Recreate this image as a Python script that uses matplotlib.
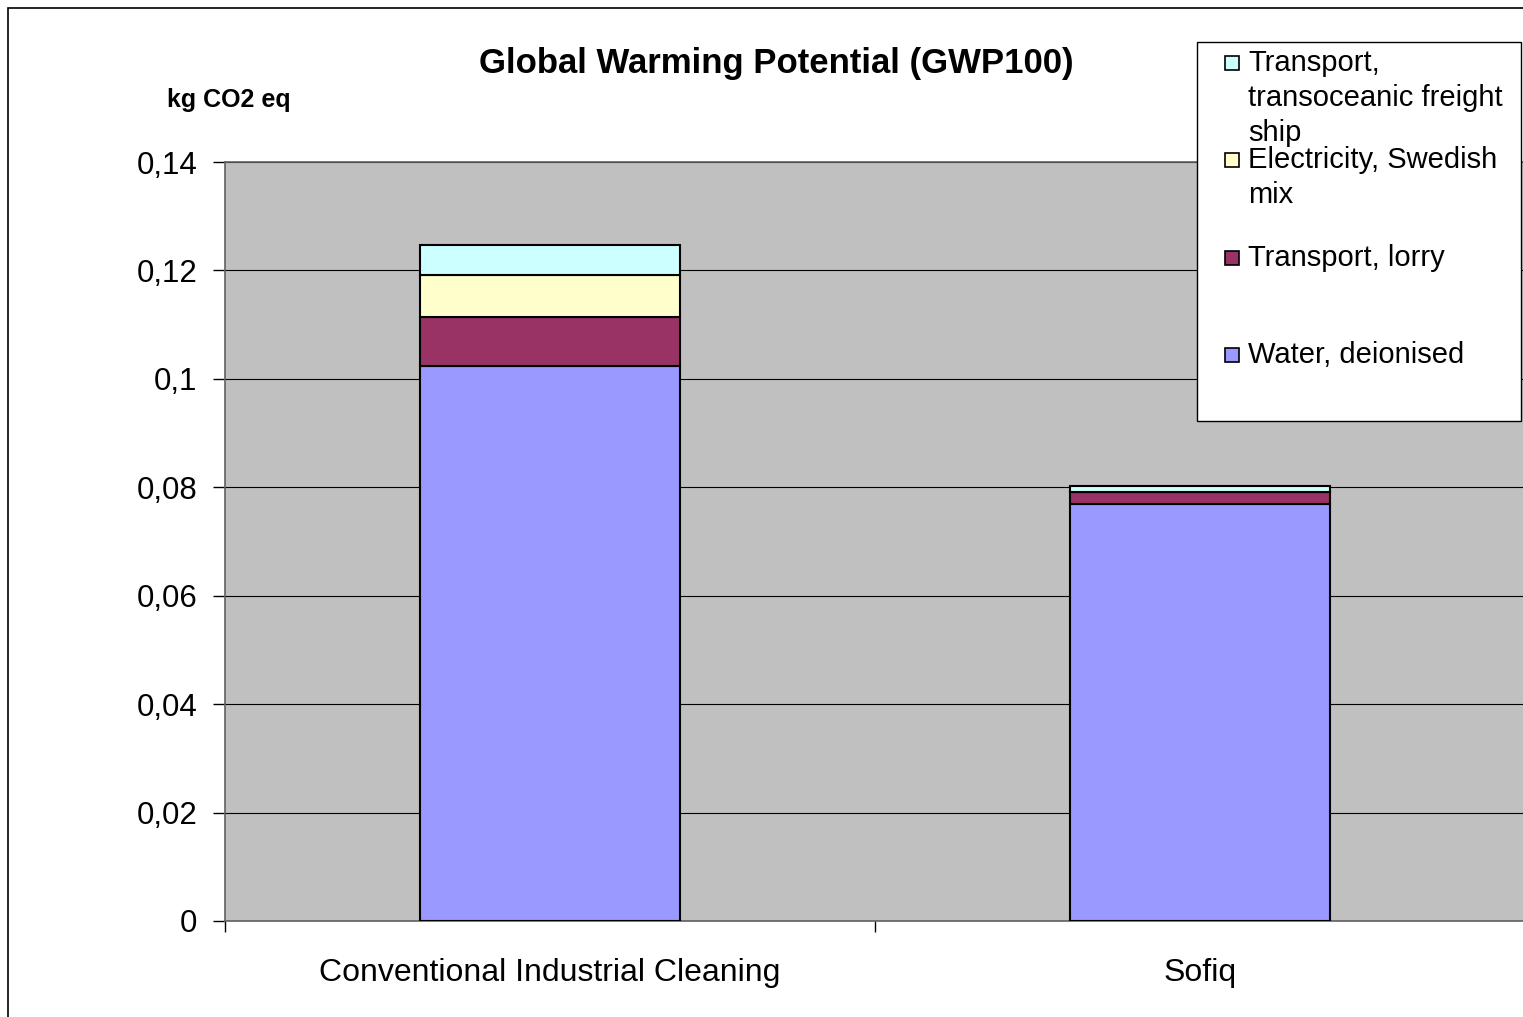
import matplotlib
matplotlib.use("Agg")
import matplotlib.pyplot as plt
from matplotlib.patches import Rectangle
from matplotlib.ticker import FixedLocator

plt.rcParams['font.family'] = ['Liberation Sans', 'DejaVu Sans']

categories = ["Conventional Industrial Cleaning", "Sofiq"]
series_names = ["Water, deionised", "Transport, lorry",
                "Electricity, Swedish mix", "Transport, transoceanic freight ship"]
legend_labels = ["Water, deionised", "Transport, lorry",
                 "Electricity, Swedish\nmix", "Transport,\ntransoceanic freight\nship"]
water = [0.1024, 0.0770]
lorry = [0.0090, 0.0021]
electricity = [0.0078, 0.0001]
ship = [0.0054, 0.0011]
series_values = [water, lorry, electricity, ship]
colors = ["#9999FF", "#993366", "#FFFFCC", "#CCFFFF"]
yticks = [0, 0.02, 0.04, 0.06, 0.08, 0.1, 0.12, 0.14]
ytick_labels = ["0", "0,02", "0,04", "0,06", "0,08", "0,1", "0,12", "0,14"]

W, H = 1523, 1017
fig = plt.figure(figsize=(W / 100, H / 100), dpi=100)
fig.patch.set_facecolor("white")

def fx(px):
    return px / W

def fy(py):
    return 1 - py / H

ax = fig.add_axes([fx(225), fy(921), fx(1525) - fx(225), fy(162) - fy(921)])
ax.set_facecolor("#C0C0C0")
ax.set_xlim(-0.5, 1.5)
ax.set_ylim(0, 0.14)

x = list(range(len(categories)))
bottom = [0.0] * len(categories)
for vals, col, name in zip(series_values, colors, series_names):
    ax.bar(x, vals, width=0.4, bottom=bottom, color=col, edgecolor="black",
           linewidth=1.5, label=name, zorder=3)
    bottom = [b + v for b, v in zip(bottom, vals)]

ax.yaxis.set_major_locator(FixedLocator(yticks))
ax.set_yticklabels(ytick_labels, fontsize=22.5)
ax.tick_params(axis="y", direction="out", length=9, width=1, color="black", pad=11)
ax.grid(axis="y", color="black", linewidth=0.8, zorder=1)
ax.set_axisbelow(True)

ax.set_xticks(x)
ax.set_xticklabels(categories, fontsize=23)
ax.tick_params(axis="x", which="major", length=0, pad=26.5)
ax.set_xticks([-0.5, 0.5, 1.5], minor=True)
ax.tick_params(axis="x", which="minor", direction="out", length=8, width=1, color="black")

for s in ["left", "bottom", "top", "right"]:
    ax.spines[s].set_color("#606060")
    ax.spines[s].set_linewidth(1.2)

fig.text(fx(776), fy(63), "Global Warming Potential (GWP100)", fontsize=25,
         fontweight="bold", ha="center", va="center")
fig.text(fx(229), fy(100), "kg CO2 eq", fontsize=18, fontweight="bold",
         ha="center", va="center")

# Outer chart border
fig.add_artist(Rectangle((fx(8), -0.02), 1.2, fy(8) + 0.02, transform=fig.transFigure,
                         fill=False, edgecolor="black", linewidth=1.2, zorder=1))

# Legend
fig.add_artist(Rectangle((fx(1197), fy(421)), fx(1521) - fx(1197), fy(42) - fy(421),
                         transform=fig.transFigure, facecolor="white",
                         edgecolor="black", linewidth=1, zorder=5))
first_line_y = [355, 258, 160, 63]
line_step = 35
msz = 14
for lab, col, y0 in zip(legend_labels, colors, first_line_y):
    fig.add_artist(Rectangle((fx(1225), fy(y0 + msz / 2)), fx(msz), fy(0) - fy(msz),
                             transform=fig.transFigure, facecolor=col,
                             edgecolor="black", linewidth=1.2, zorder=6))
    for i, line in enumerate(lab.split("\n")):
        t = fig.text(fx(1248), fy(y0 + i * line_step), line, fontsize=21,
                     ha="left", va="center")
        t.set_zorder(7)

fig.savefig("out.png", dpi=100)
